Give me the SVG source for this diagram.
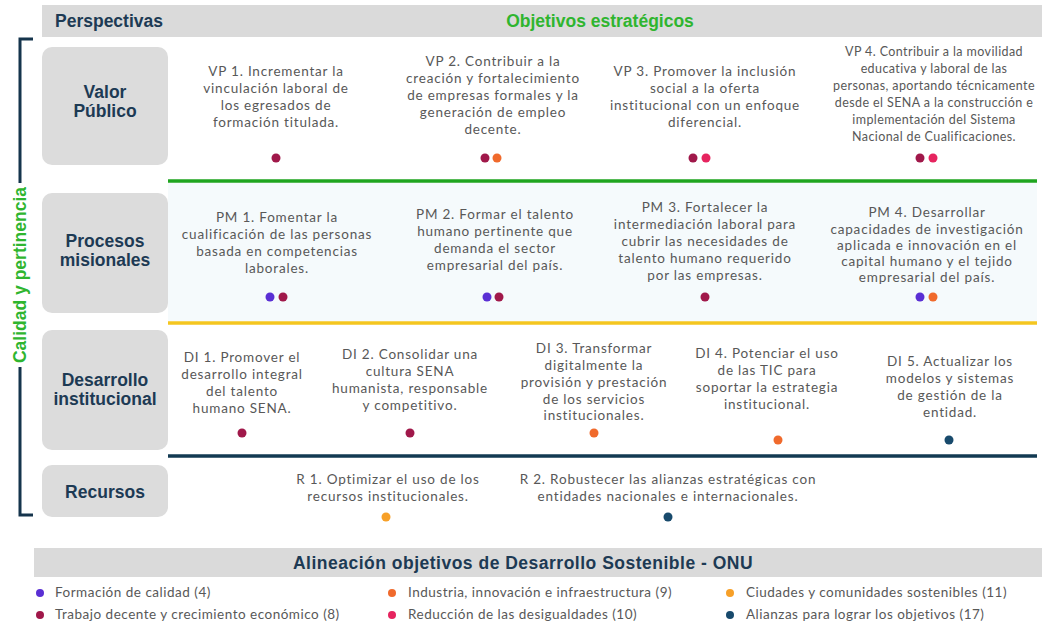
<svg xmlns="http://www.w3.org/2000/svg" width="1042" height="625" viewBox="0 0 1042 625">
<style>
.bar{fill:#dadada}
.box{fill:#dcdcdc}
.lab{font-family:"Liberation Sans",Arial,sans-serif;font-weight:bold;font-size:17.5px;fill:#1d3a54;text-anchor:middle}
.hd{font-family:"Liberation Sans",Arial,sans-serif;font-weight:bold;font-size:17.5px}
.t{font-family:Lato,"Noto Sans",sans-serif;font-size:13.5px;fill:#585858;text-anchor:middle;letter-spacing:0.8px}
.s{font-size:12.5px;letter-spacing:0.4px}
.lg{font-family:Lato,"Noto Sans",sans-serif;font-size:13.5px;fill:#585858;letter-spacing:0.5px}
.c4{fill:#5a2fd4}.c8{fill:#a0184a}.c9{fill:#f06a2c}.c10{fill:#e6245f}.c11{fill:#f7a028}.c17{fill:#184a6c}
</style>
<rect width="1042" height="625" fill="#ffffff"/>
<rect x="168" y="183" width="869" height="138" fill="#f5fafc"/>

<g id="header">
<rect class="bar" x="42" y="5" width="1000" height="32"/>
<text class="hd" x="55" y="27" fill="#1d3a54">Perspectivas</text>
<text class="hd" x="600" y="27" fill="#2fb52f" text-anchor="middle">Objetivos estratégicos</text>
</g>

<g id="bracket">
<path d="M33,39 H20 V183 M20,367 V515 H33" fill="none" stroke="#15344c" stroke-width="3"/>
<text transform="translate(26,275) rotate(-90)" font-family="Liberation Sans,Arial,sans-serif" font-weight="bold" font-size="17.5" fill="#2fb52f" text-anchor="middle">Calidad y pertinencia</text>
</g>

<g id="connectors">
<line x1="168" y1="181" x2="1037" y2="181" stroke="#1fa51f" stroke-width="3.5"/>
<line x1="168" y1="323" x2="1037" y2="323" stroke="#f4c61f" stroke-width="3.5"/>
<line x1="168" y1="456" x2="1037" y2="456" stroke="#123a52" stroke-width="3.5"/>
</g>

<g id="p-valor"><rect class="box" x="42" y="47" width="126" height="118" rx="10"/>
<text class="lab" x="105" y="98">Valor</text><text class="lab" x="105" y="117">Público</text></g>
<g id="p-procesos"><rect class="box" x="42" y="193" width="126" height="120" rx="10"/>
<text class="lab" x="105" y="247">Procesos</text><text class="lab" x="105" y="266">misionales</text></g>
<g id="p-desarrollo"><rect class="box" x="42" y="330" width="126" height="120" rx="10"/>
<text class="lab" x="105" y="386">Desarrollo</text><text class="lab" x="105" y="405">institucional</text></g>
<g id="p-recursos"><rect class="box" x="42" y="465" width="126" height="52" rx="10"/>
<text class="lab" x="105" y="498">Recursos</text></g>

<g id="vp1"><text class="t" x="276" y="76">VP 1. Incrementar la</text><text class="t" x="276" y="93">vinculación laboral de</text><text class="t" x="276" y="110">los egresados de</text><text class="t" x="276" y="127">formación titulada.</text>
<circle class="c8" cx="276" cy="158" r="4.5"/></g>
<g id="vp2"><text class="t" x="493" y="66">VP 2. Contribuir a la</text><text class="t" x="493" y="83">creación y fortalecimiento</text><text class="t" x="493" y="100">de empresas formales y la</text><text class="t" x="493" y="117">generación de empleo</text><text class="t" x="493" y="134">decente.</text>
<circle class="c8" cx="485" cy="158" r="4.5"/><circle class="c9" cx="497" cy="158" r="4.5"/></g>
<g id="vp3"><text class="t" x="705" y="76">VP 3. Promover la inclusión</text><text class="t" x="705" y="93">social a la oferta</text><text class="t" x="705" y="110">institucional con un enfoque</text><text class="t" x="705" y="127">diferencial.</text>
<circle class="c8" cx="693" cy="158" r="4.5"/><circle class="c10" cx="706" cy="158" r="4.5"/></g>
<g id="vp4"><text class="t s" x="934" y="56">VP 4. Contribuir a la movilidad</text><text class="t s" x="934" y="73">educativa y laboral de las</text><text class="t s" x="934" y="90">personas, aportando técnicamente</text><text class="t s" x="934" y="107">desde el SENA a la construcción e</text><text class="t s" x="934" y="124">implementación del Sistema</text><text class="t s" x="934" y="141">Nacional de Cualificaciones.</text>
<circle class="c8" cx="920" cy="158" r="4.5"/><circle class="c10" cx="933" cy="158" r="4.5"/></g>

<g id="pm1"><text class="t" x="277" y="222">PM 1. Fomentar la</text><text class="t" x="277" y="239">cualificación de las personas</text><text class="t" x="277" y="256">basada en competencias</text><text class="t" x="277" y="273">laborales.</text>
<circle class="c4" cx="270" cy="297" r="4.5"/><circle class="c8" cx="283" cy="297" r="4.5"/></g>
<g id="pm2"><text class="t" x="495" y="219">PM 2. Formar el talento</text><text class="t" x="495" y="236">humano pertinente que</text><text class="t" x="495" y="253">demanda el sector</text><text class="t" x="495" y="270">empresarial del país.</text>
<circle class="c4" cx="487" cy="297" r="4.5"/><circle class="c8" cx="499" cy="297" r="4.5"/></g>
<g id="pm3"><text class="t" x="705" y="212">PM 3. Fortalecer la</text><text class="t" x="705" y="229">intermediación laboral para</text><text class="t" x="705" y="246">cubrir las necesidades de</text><text class="t" x="705" y="263">talento humano requerido</text><text class="t" x="705" y="280">por las empresas.</text>
<circle class="c8" cx="705" cy="297" r="4.5"/></g>
<g id="pm4"><text class="t" x="927" y="217">PM 4. Desarrollar</text><text class="t" x="927" y="234">capacidades de investigación</text><text class="t" x="927" y="250">aplicada e innovación en el</text><text class="t" x="927" y="266">capital humano y el tejido</text><text class="t" x="927" y="282">empresarial del país.</text>
<circle class="c4" cx="920" cy="297" r="4.5"/><circle class="c9" cx="933" cy="297" r="4.5"/></g>

<g id="di1"><text class="t" x="242" y="362">DI 1. Promover el</text><text class="t" x="242" y="379">desarrollo integral</text><text class="t" x="242" y="396">del talento</text><text class="t" x="242" y="413">humano SENA.</text>
<circle class="c8" cx="242" cy="433" r="4.5"/></g>
<g id="di2"><text class="t" x="410" y="359">DI 2. Consolidar una</text><text class="t" x="410" y="376">cultura SENA</text><text class="t" x="410" y="393">humanista, responsable</text><text class="t" x="410" y="410">y competitivo.</text>
<circle class="c8" cx="410" cy="433" r="4.5"/></g>
<g id="di3"><text class="t" x="594" y="353">DI 3. Transformar</text><text class="t" x="594" y="370">digitalmente la</text><text class="t" x="594" y="387">provisión y prestación</text><text class="t" x="594" y="404">de los servicios</text><text class="t" x="594" y="420">institucionales.</text>
<circle class="c9" cx="594" cy="433" r="4.5"/></g>
<g id="di4"><text class="t" x="767" y="358">DI 4. Potenciar el uso</text><text class="t" x="767" y="375">de las TIC para</text><text class="t" x="767" y="392">soportar la estrategia</text><text class="t" x="767" y="409">institucional.</text>
<circle class="c9" cx="778" cy="440" r="4.5"/></g>
<g id="di5"><text class="t" x="950" y="366">DI 5. Actualizar los</text><text class="t" x="950" y="383">modelos y sistemas</text><text class="t" x="950" y="400">de gestión de la</text><text class="t" x="950" y="417">entidad.</text>
<circle class="c17" cx="949" cy="440" r="4.5"/></g>

<g id="r1"><text class="t" x="388" y="484">R 1. Optimizar el uso de los</text><text class="t" x="388" y="501">recursos institucionales.</text>
<circle class="c11" cx="386" cy="517" r="4.5"/></g>
<g id="r2"><text class="t" x="668" y="484">R 2. Robustecer las alianzas estratégicas con</text><text class="t" x="668" y="501">entidades nacionales e internacionales.</text>
<circle class="c17" cx="668" cy="517" r="4.5"/></g>

<g id="legend">
<rect class="bar" x="34" y="548" width="1008" height="29"/>
<text class="hd" x="523" y="569" fill="#1d3a54" text-anchor="middle" letter-spacing="0.5">Alineación objetivos de Desarrollo Sostenible - ONU</text>
<circle class="c4" cx="40" cy="593" r="4"/><text class="lg" x="55" y="597">Formación de calidad (4)</text>
<circle class="c8" cx="40" cy="615" r="4"/><text class="lg" x="55" y="619">Trabajo decente y crecimiento económico (8)</text>
<circle class="c9" cx="392" cy="593" r="4"/><text class="lg" x="408" y="597">Industria, innovación e infraestructura (9)</text>
<circle class="c10" cx="392" cy="615" r="4"/><text class="lg" x="408" y="619">Reducción de las desigualdades (10)</text>
<circle class="c11" cx="730" cy="593" r="4"/><text class="lg" x="746" y="597">Ciudades y comunidades sostenibles (11)</text>
<circle class="c17" cx="730" cy="615" r="4"/><text class="lg" x="746" y="619">Alianzas para lograr los objetivos (17)</text>
</g>
</svg>
